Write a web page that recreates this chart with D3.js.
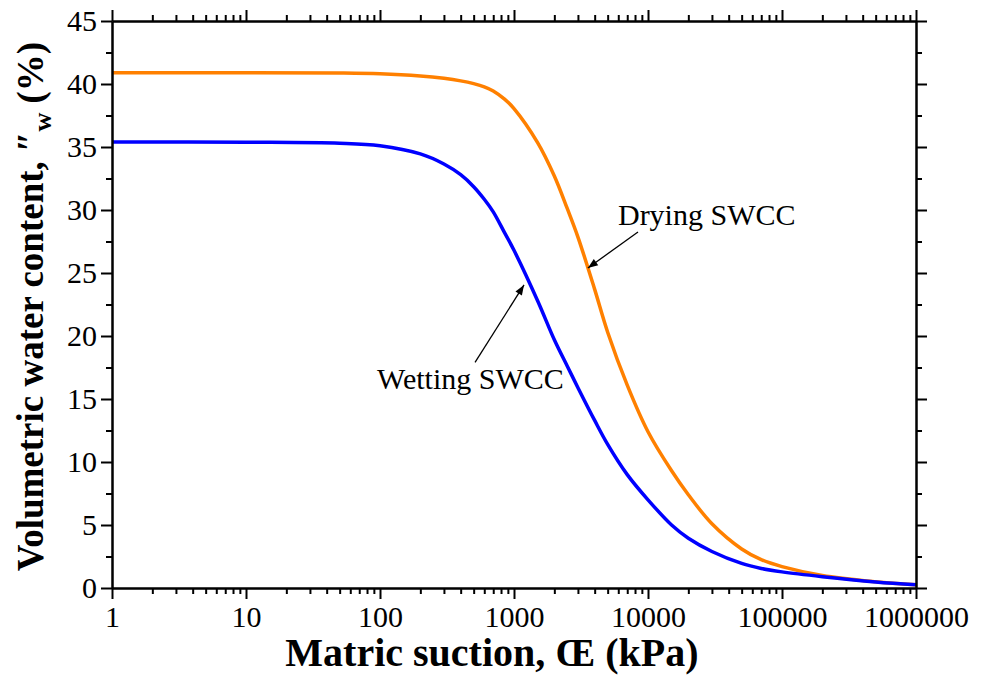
<!DOCTYPE html>
<html>
<head>
<meta charset="utf-8">
<script src="https://cdn.jsdelivr.net/npm/d3@7"></script>
<style>
  body { margin: 0; background: #fff; }
  svg { display: block; }
  .axis path, .axis line { stroke: #000; stroke-width: 2; }
  .axis text { font-family: "Liberation Serif", serif; font-size: 30px; fill: #000; }
</style>
</head>
<body>
<div id="chart"></div>
<script>
// suction (kPa) and water content (%)
var suction = [1, 10, 50, 100, 200, 300, 400, 500, 600, 700, 850, 1000, 1500, 2000, 2500, 3000, 4000, 5000, 7000,
  10000, 15000, 20000, 30000, 50000, 70000, 100000, 200000, 500000, 1000000];
var drying = [40.9, 40.9, 40.88, 40.82, 40.64, 40.45, 40.25, 40.03, 39.78, 39.45, 38.8, 38.05, 35.35, 32.7, 30.1, 27.85, 23.7, 20.3, 16.1,
  12.4, 9.3, 7.4, 5.1, 3.1, 2.25, 1.7, 1.0, 0.5, 0.25];
var wetting = [35.4, 35.38, 35.3, 35.1, 34.45, 33.65, 32.8, 31.85, 30.85, 29.85, 28.2, 26.8, 22.8, 19.7, 17.6, 15.9, 13.3, 11.4, 9.0,
  7.0, 5.0, 3.95, 2.9, 1.95, 1.55, 1.28, 0.9, 0.48, 0.25];
var xMajor = [1, 10, 100, 1000, 10000, 100000, 1000000];
var yMajor = [0, 5, 10, 15, 20, 25, 30, 35, 40, 45];
var yMinor = [2.5, 7.5, 12.5, 17.5, 22.5, 27.5, 32.5, 37.5, 42.5];

// annotations in data units: label position, arrow tail, arrow tip
var notes = [
  { label: 'Drying SWCC', tx: 5970, ty: 28.8, x1: 8420, y1: 28.25, x2: 3560, y2: 25.4 },
  { label: 'Wetting SWCC', tx: 95, ty: 15.8, x1: 512, y1: 17.9, x2: 1188, y2: 24.05 }
];

var W = 981, H = 677;
var margin = { top: 21, right: 65, bottom: 89, left: 112 };
var w = W - margin.left - margin.right;
var h = H - margin.top - margin.bottom;

var xMinor = [];
xMajor.slice(0, -1).forEach(function (d) {
  for (var k = 2; k < 10; k++) xMinor.push(d * k);
});

var svg = d3.select('#chart').append('svg').attr('width', W).attr('height', H);

svg.append('defs').append('marker')
  .attr('id', 'head').attr('viewBox', '0 0 10 10')
  .attr('refX', 10).attr('refY', 5)
  .attr('markerWidth', 15).attr('markerHeight', 10)
  .attr('markerUnits', 'userSpaceOnUse')
  .attr('orient', 'auto')
  .append('path').attr('d', 'M 0 1.2 L 10 5 L 0 8.8 z').attr('fill', '#000');

var g = svg.append('g').attr('transform', 'translate(' + margin.left + ',' + margin.top + ')');

var x = d3.scaleLog().domain([1, 1e6]).range([0, w]);
var y = d3.scaleLinear().domain([0, 45]).range([h, 0]);

// curves
var line = d3.line()
  .x(function (d) { return x(d[0]); })
  .y(function (d) { return y(d[1]); })
  .curve(d3.curveCatmullRom.alpha(0.5));

[[drying, '#ff8000'], [wetting, '#0000ff']].forEach(function (s) {
  g.append('path')
    .datum(suction.map(function (v, i) { return [v, s[0][i]]; }))
    .attr('fill', 'none')
    .attr('stroke', s[1])
    .attr('stroke-width', 3.5)
    .attr('d', line);
});

// axes, ticks outward on all four sides
function addAxis(gen, tr, labels) {
  var a = g.append('g').attr('class', 'axis').attr('transform', tr).call(gen);
  if (!labels) a.selectAll('text').remove();
  return a;
}
var fmt = d3.format('d');

addAxis(d3.axisBottom(x).tickValues(xMinor).tickSize(6).tickSizeOuter(0), 'translate(0,' + h + ')', false);
addAxis(d3.axisBottom(x).tickValues(xMajor).tickFormat(fmt).tickSize(11).tickPadding(7).tickSizeOuter(0), 'translate(0,' + h + ')', true);
addAxis(d3.axisTop(x).tickValues(xMinor).tickSize(6).tickSizeOuter(0), 'translate(0,0)', false);
addAxis(d3.axisTop(x).tickValues(xMajor).tickSize(11).tickSizeOuter(0), 'translate(0,0)', false);

addAxis(d3.axisLeft(y).tickValues(yMinor).tickSize(6).tickSizeOuter(0), 'translate(0,0)', false);
addAxis(d3.axisLeft(y).tickValues(yMajor).tickFormat(fmt).tickSize(11).tickPadding(4).tickSizeOuter(0), 'translate(0,0)', true);
addAxis(d3.axisRight(y).tickValues(yMinor).tickSize(6).tickSizeOuter(0), 'translate(' + w + ',0)', false);
addAxis(d3.axisRight(y).tickValues(yMajor).tickSize(11).tickSizeOuter(0), 'translate(' + w + ',0)', false);

// annotations
notes.forEach(function (n) {
  g.append('line')
    .attr('x1', x(n.x1)).attr('y1', y(n.y1))
    .attr('x2', x(n.x2)).attr('y2', y(n.y2))
    .attr('stroke', '#000').attr('stroke-width', 1.3)
    .attr('marker-end', 'url(#head)');
  g.append('text')
    .attr('x', x(n.tx)).attr('y', y(n.ty))
    .attr('font-family', '"Liberation Serif", serif')
    .attr('font-size', 30)
    .attr('fill', '#000')
    .text(n.label);
});

// axis titles
svg.append('text')
  .attr('x', 492).attr('y', 666)
  .attr('text-anchor', 'middle')
  .attr('font-family', '"Liberation Serif", serif')
  .attr('font-weight', 'bold')
  .attr('font-size', 40)
  .text('Matric suction, \u0152 (kPa)');

var yt = svg.append('text')
  .attr('transform', 'translate(43,' + (margin.top + h / 2 + 2) + ') rotate(-90)')
  .attr('text-anchor', 'middle')
  .attr('font-family', '"Liberation Serif", serif')
  .attr('font-weight', 'bold')
  .attr('font-size', 37);
yt.append('tspan').text('Volumetric water content, \u2033');
yt.append('tspan').attr('font-size', 26).attr('dy', 8).text('w');
yt.append('tspan').attr('dy', -8).text(' (%)');
</script>
</body>
</html>
